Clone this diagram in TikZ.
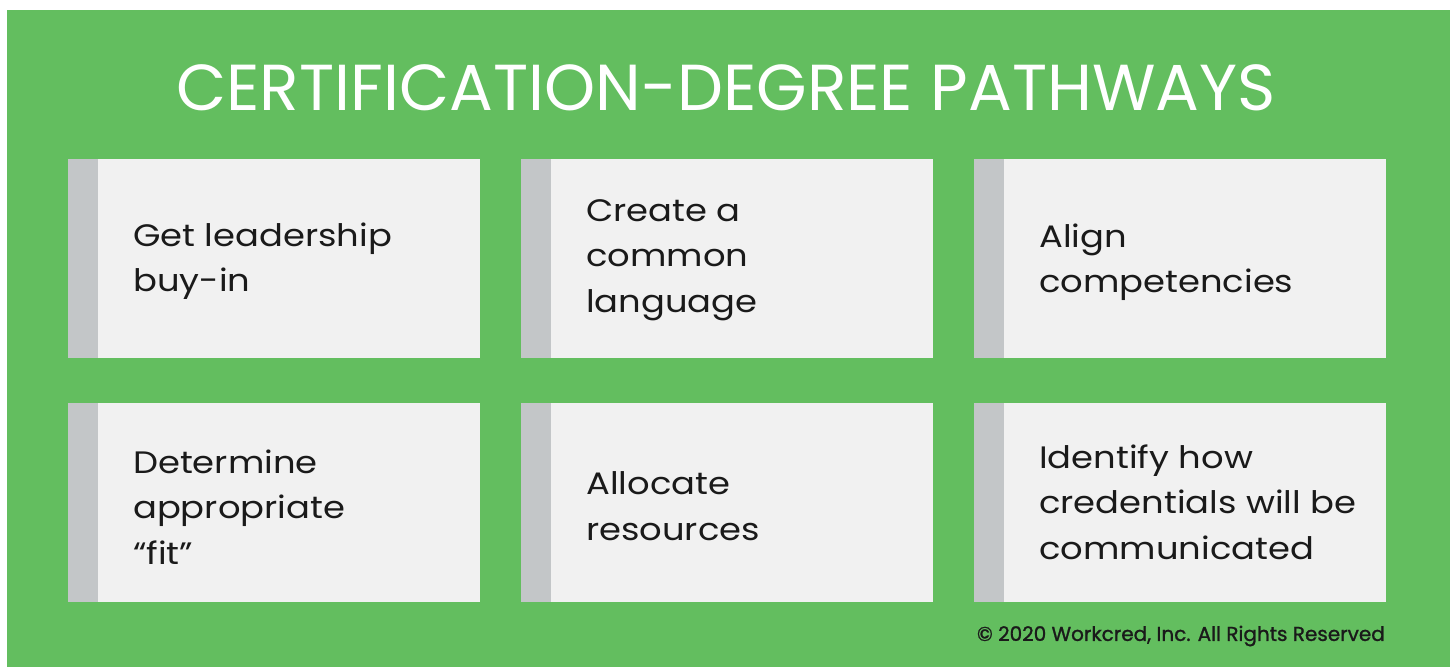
\documentclass[tikz,border=0pt]{standalone}
\usepackage{fontspec}
\setmainfont{Poppins}
\newfontfamily\cardfont[FakeStretch=1.14]{Poppins}
\newfontfamily\footfont[FakeBold=1.2]{Poppins}
\definecolor{bggreen}{HTML}{63BE5F}
\definecolor{bargrey}{HTML}{C3C6C8}
\definecolor{boxgrey}{HTML}{F1F1F1}
\definecolor{txt}{HTML}{1A1A1A}
\begin{document}
\begin{tikzpicture}[x=1pt,y=-1pt,
  card/.style={fill=boxgrey,draw=none},
  cardbar/.style={fill=bargrey,draw=none},
  cardtext/.style={anchor=west,align=left,inner sep=0pt,text=txt,
    font=\cardfont\fontsize{31}{45.5}\selectfont}]
\useasboundingbox[fill=white] (0,0) rectangle (1450,667);
\fill[bggreen] (7,10) rectangle (1450,667);
\node[text=white,font=\fontsize{65}{70}\selectfont,inner sep=0pt] (title) at (726,88) {CERTIFICATION-DEGREE PATHWAYS};
% cards
\foreach \n/\x/\y in {a/68/159,b/521/159,c/974/159,d/68/403,e/521/403,f/974/403}{
  \fill[card] (\x,\y) rectangle ++(412,199);
  \fill[cardbar] (\x,\y) rectangle ++(30,199);
}
\node[cardtext] (ta) at (133,261) {Get leadership\\buy-in};
\node[cardtext] (tb) at (586,260) {Create a\\common\\language};
\node[cardtext] (tc) at (1039,262) {Align\\competencies};
\node[cardtext] (td) at (133,507) {Determine\\appropriate\\“fit”};
\node[cardtext] (te) at (586,506) {Allocate\\resources};
\node[cardtext] (tf) at (1039,502) {Identify how\\credentials will be\\communicated};
\node[anchor=east,inner sep=0pt,text=txt,font=\footfont\fontsize{20}{22}\selectfont] (foot) at (1385,636) {© 2020 Workcred, Inc. All Rights Reserved};
\end{tikzpicture}
\end{document}
